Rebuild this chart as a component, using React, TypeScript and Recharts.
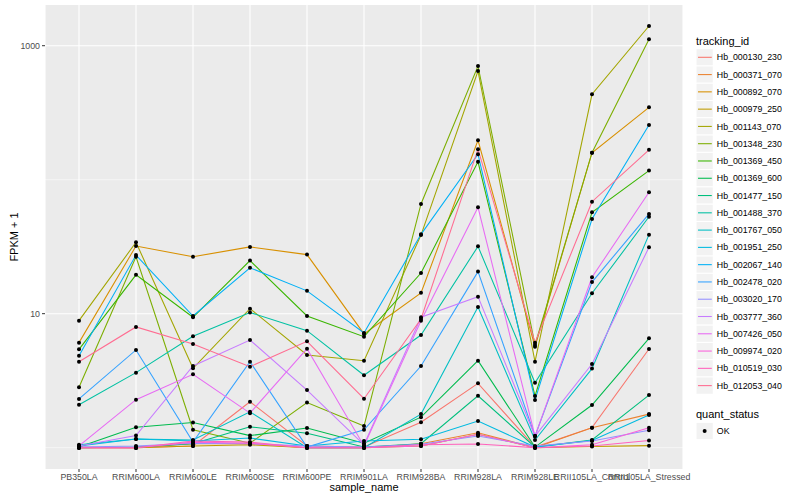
import React from 'react';
import { LineChart, Line, XAxis, YAxis, CartesianGrid } from 'recharts';

const FONT = '"Liberation Sans", Arial, Helvetica, sans-serif';

const categories = [
  'PB350LA', 'RRIM600LA', 'RRIM600LE', 'RRIM600SE', 'RRIM600PE', 'RRIM901LA',
  'RRIM928BA', 'RRIM928LA', 'RRIM928LE', 'RRII105LA_Control', 'RRII105LA_Stressed',
];

const yTicks = [10, 1000];
const yMinor = [1, 100];

const trackingIds = [
  'Hb_000130_230', 'Hb_000371_070', 'Hb_000892_070', 'Hb_000979_250', 'Hb_001143_070',
  'Hb_001348_230', 'Hb_001369_450', 'Hb_001369_600', 'Hb_001477_150', 'Hb_001488_370',
  'Hb_001767_050', 'Hb_001951_250', 'Hb_002067_140', 'Hb_002478_020', 'Hb_003020_170',
  'Hb_003777_360', 'Hb_007426_050', 'Hb_009974_020', 'Hb_010519_030', 'Hb_012053_040',
];

const colors = [
  '#F8766D', '#EA8331', '#D89000', '#C09B00', '#A3A500', '#7CAE00', '#39B600', '#00BB4E',
  '#00BF7D', '#00C1A3', '#00BFC4', '#00BAE0', '#00B0F6', '#35A2FF', '#9590FF', '#C77CFF',
  '#E76BF3', '#FA62DB', '#FF62BC', '#FF6C91',
];

// FPKM + 1 per sample (order of categories)
const hb000130_230 = [1.01, 1.0, 1.03, 2.2, 1.03, 1.01, 1.55, 3.02, 1.01, 1.41, 5.45];
const hb000371_070 = [1.0, 1.0, 1.07, 1.07, 1.0, 1.0, 1.07, 1.29, 1.0, 1.41, 1.78];
const hb000892_070 = [6.08, 32.0, 26.6, 31.5, 27.6, 7.06, 14.3, 197, 5.67, 159, 347];
const hb000979_250 = [1.0, 1.0, 1.03, 1.05, 1.0, 1.0, 1.03, 1.26, 1.0, 1.02, 1.035];
const hb001143_070 = [8.87, 34.1, 3.91, 10.9, 4.92, 4.46, 38.6, 647, 4.38, 434, 1403];
const hb001348_230 = [2.82, 26.6, 1.36, 1.08, 2.17, 1.45, 65.9, 706, 5.84, 159, 1116];
const hb001369_450 = [5.42, 19.5, 9.4, 24.9, 9.61, 6.74, 20.1, 136, 2.43, 57.1, 117];
const hb001369_600 = [1.01, 1.42, 1.54, 1.23, 1.4, 1.08, 1.69, 4.46, 1.01, 2.08, 6.55];
const hb001477_150 = [1.0, 1.01, 1.07, 1.43, 1.28, 1.01, 1.07, 2.44, 1.01, 1.14, 2.47];
const hb001488_370 = [2.09, 3.63, 6.78, 10.2, 7.47, 3.47, 6.93, 31.8, 3.05, 14.2, 52.9];
const hb001767_050 = [1.05, 1.16, 1.14, 1.85, 1.0, 1.0, 1.78, 11.2, 1.14, 3.89, 38.9];
const hb001951_250 = [1.03, 1.16, 1.12, 1.18, 1.03, 1.12, 1.155, 1.58, 1.01, 1.13, 1.75];
const hb002067_140 = [4.86, 27.4, 9.61, 22.0, 14.8, 7.18, 39.1, 155, 2.27, 50.9, 256];
const hb002478_020 = [2.31, 5.36, 1.1, 4.38, 1.01, 1.36, 4.07, 20.6, 1.22, 17.2, 55.5];
const hb003020_170 = [1.01, 1.03, 1.08, 1.07, 1.03, 1.01, 1.06, 1.22, 1.03, 1.12, 1.35];
const hb003777_360 = [1.03, 1.23, 4.07, 6.36, 2.69, 1.05, 9.4, 13.4, 1.22, 4.21, 31.3];
const hb007426_050 = [1.03, 2.28, 3.53, 1.81, 5.48, 1.03, 8.87, 62.2, 1.22, 18.7, 80.5];
const hb009974_020 = [1.0, 1.0, 1.1, 1.08, 1.0, 1.0, 1.03, 1.26, 1.0, 1.05, 1.41];
const hb010519_030 = [1.0, 1.0, 1.12, 1.1, 1.0, 1.0, 1.05, 1.066, 1.0, 1.03, 1.13];
const hb012053_040 = [4.38, 7.96, 5.94, 4.02, 6.22, 2.32, 9.13, 169, 6.08, 68.5, 167];

const seriesValues = [
  hb000130_230, hb000371_070, hb000892_070, hb000979_250, hb001143_070,
  hb001348_230, hb001369_450, hb001369_600, hb001477_150, hb001488_370,
  hb001767_050, hb001951_250, hb002067_140, hb002478_020, hb003020_170,
  hb003777_360, hb007426_050, hb009974_020, hb010519_030, hb012053_040,
];

const chartData = categories.map((c, i) => {
  const row: Record<string, any> = { sample: c };
  trackingIds.forEach((id, k) => {
    row[id] = seriesValues[k][i];
  });
  return row;
});

const renderDot = (props: any) => {
  const { cx, cy, index, dataKey } = props;
  if (cx == null || cy == null) return <g key={`e-${dataKey}-${index}`} />;
  return <circle key={`d-${dataKey}-${index}`} cx={cx} cy={cy} r={2} fill="#000000" />;
};

const LEG_X = 696;
const LEG_Y0 = 57.3;
const LEG_STEP = 17.28;

export default function App() {
  return (
    <div style={{ position: 'absolute', left: 0, top: 0, width: 800, height: 500, background: '#fff' }}>
      <LineChart
        width={800}
        height={500}
        data={chartData}
        margin={{ top: 5, right: 117, bottom: 0, left: 0 }}
      >
        <CartesianGrid fill="#EBEBEB" stroke="#FFFFFF" strokeWidth={1.07} horizontalValues={yTicks} />
        <CartesianGrid stroke="#FFFFFF" strokeWidth={0.53} vertical={false} horizontalValues={yMinor} />
        <XAxis
          dataKey="sample"
          type="category"
          interval={0}
          padding={{ left: 34, right: 34 }}
          height={31}
          axisLine={false}
          tickSize={3}
          tickLine={{ stroke: '#333333' }}
          tick={{ fill: '#4D4D4D', fontSize: 8.8, fontFamily: FONT }}
        />
        <YAxis
          scale="log"
          domain={[0.693, 2013]}
          allowDataOverflow
          ticks={yTicks}
          tickFormatter={(v: number) => String(v)}
          width={45}
          axisLine={false}
          tickSize={3}
          tickLine={{ stroke: '#333333' }}
          tick={{ fill: '#4D4D4D', fontSize: 8.8, fontFamily: FONT }}
        />
        {trackingIds.map((id, k) => (
          <Line
            key={`l-${id}`}
            type="linear"
            dataKey={id}
            stroke={colors[k]}
            strokeWidth={1.07}
            dot={false}
            activeDot={false}
            isAnimationActive={false}
          />
        ))}
        {trackingIds.map((id) => (
          <Line
            key={`p-${id}`}
            type="linear"
            dataKey={id}
            stroke="none"
            strokeWidth={0}
            dot={renderDot}
            activeDot={false}
            legendType="none"
            isAnimationActive={false}
          />
        ))}
      </LineChart>
      <svg
        width={800}
        height={500}
        style={{ position: 'absolute', left: 0, top: 0, pointerEvents: 'none' }}
        fontFamily={FONT}
      >
        <text x={17.5} y={237} fontSize={11} fill="#000" textAnchor="middle" transform="rotate(-90 17.5 237)">
          FPKM + 1
        </text>
        <text x={364} y={491} fontSize={11} fill="#000" textAnchor="middle">
          sample_name
        </text>
        <text x={LEG_X} y={44.5} fontSize={11} fill="#000">tracking_id</text>
        {trackingIds.map((id, k) => {
          const cy = LEG_Y0 + LEG_STEP * k;
          return (
            <g key={`lg-${id}`}>
              <rect x={LEG_X} y={cy - LEG_STEP / 2} width={LEG_STEP} height={LEG_STEP} fill="#F2F2F2" stroke="#FFFFFF" strokeWidth={1} />
              <line x1={LEG_X + 2} x2={LEG_X + LEG_STEP - 1.5} y1={cy} y2={cy} stroke={colors[k]} strokeWidth={1.07} />
              <text x={716.8} y={cy + 3.1} fontSize={8.8} fill="#000">{id}</text>
            </g>
          );
        })}
        <text x={LEG_X} y={418} fontSize={11} fill="#000">quant_status</text>
        <rect x={LEG_X} y={431 - LEG_STEP / 2} width={LEG_STEP} height={LEG_STEP} fill="#F2F2F2" stroke="#FFFFFF" strokeWidth={1} />
        <circle cx={LEG_X + LEG_STEP / 2} cy={431} r={2} fill="#000" />
        <text x={716.8} y={434.1} fontSize={8.8} fill="#000">OK</text>
      </svg>
    </div>
  );
}
